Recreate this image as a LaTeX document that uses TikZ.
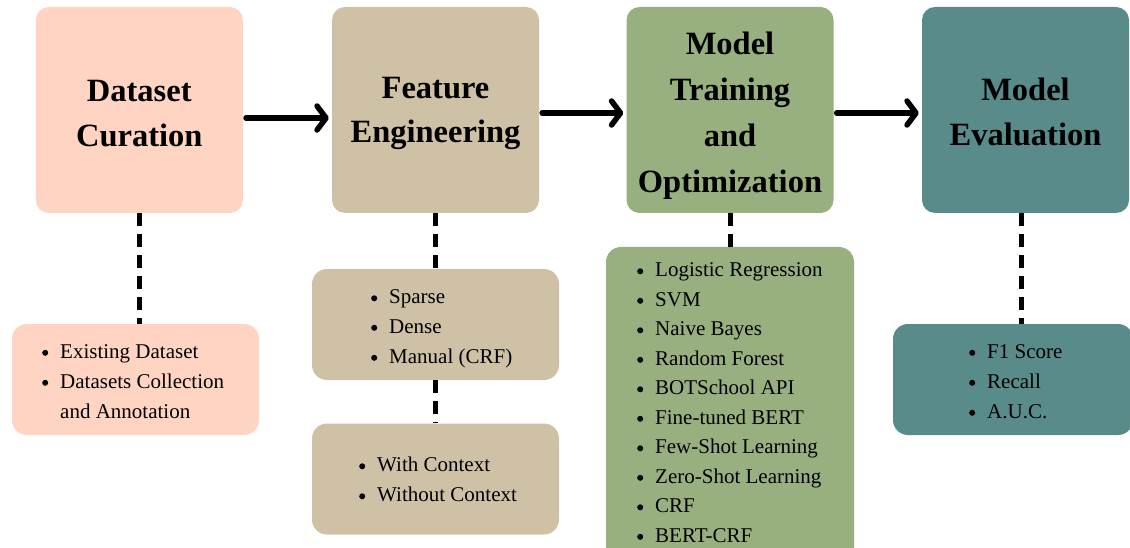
\documentclass[tikz,border=0pt]{standalone}
\usepackage{fontspec}
\setmainfont{Liberation Serif}
\usetikzlibrary{arrows.meta}
\definecolor{cpeach}{HTML}{FFD4C2}
\definecolor{ctan}{HTML}{CEC1A6}
\definecolor{cgreen}{HTML}{98AF80}
\definecolor{cteal}{HTML}{588B8A}
\tikzset{
  mainbox/.style={rounded corners=13pt, inner sep=0pt, minimum width=207pt, minimum height=206pt},
  subbox/.style={rounded corners=15pt, inner sep=0pt},
  ttl/.style={anchor=base, inner sep=0pt, font=\bfseries\fontsize{32.5}{40}\selectfont},
  itm/.style={anchor=west, inner sep=0pt, text height=14pt, text depth=4pt, font=\fontsize{21}{25}\selectfont},
  flow/.style={line width=5.5pt, line cap=round, -{Straight Barb[length=9pt,width=24pt,round]}},
  dashline/.style={line width=5pt, dash pattern=on 13pt off 8pt}
}
\newcommand{\bul}{\llap{\tikz[baseline=0pt]\fill (0pt,5.2pt) circle (3pt);\hspace{12pt}}}
\begin{document}
\begin{tikzpicture}[x=1pt,y=-1pt]
\useasboundingbox (0,0) rectangle (1130,548);
% main boxes
\node[mainbox, fill=cpeach] (b1) at (139.3,110) {};
\node[mainbox, fill=ctan] (b2) at (435.5,110) {};
\node[mainbox, fill=cgreen] (b3) at (730,110) {};
\node[mainbox, fill=cteal] (b4) at (1025.5,110) {};
% titles
\node[ttl] (t1a) at (139.3,101.5) {Dataset};
\node[ttl] (t1b) at (139.3,146.5) {Curation};
\node[ttl] (t2a) at (435.5,98.5) {Feature};
\node[ttl] (t2b) at (435.5,143) {Engineering};
\node[ttl] (t3a) at (730,55) {Model};
\node[ttl] (t3b) at (730,101) {Training};
\node[ttl] (t3c) at (730,147) {and};
\node[ttl] (t3d) at (730,193) {Optimization};
\node[ttl] (t4a) at (1025.5,100.5) {Model};
\node[ttl] (t4b) at (1025.5,146) {Evaluation};
% flow arrows
\coordinate (a1s) at (b1.east |- 0,118);
\coordinate (a1e) at (b2.west |- 0,118);
\draw[flow] ([xshift=3pt]a1s) -- ([xshift=-3pt]a1e);
\coordinate (a2s) at (b2.east |- 0,113);
\coordinate (a2e) at (b3.west |- 0,113);
\draw[flow] ([xshift=3pt]a2s) -- ([xshift=-3pt]a2e);
\coordinate (a3s) at (b3.east |- 0,113);
\coordinate (a3e) at (b4.west |- 0,113);
\draw[flow] ([xshift=3pt]a3s) -- ([xshift=-3pt]a3e);
% sub boxes
\node[subbox, fill=cpeach, minimum width=247pt, minimum height=111pt] (s1) at (135.5,379.5) {};
\node[subbox, fill=ctan, minimum width=247pt, minimum height=111pt] (s2a) at (435.5,324.5) {};
\node[subbox, fill=ctan, minimum width=247pt, minimum height=111pt] (s2b) at (435.5,479) {};
\node[subbox, fill=cgreen, minimum width=248pt, minimum height=320pt] (s3) at (730,407) {};
\node[subbox, fill=cteal, minimum width=240pt, minimum height=111pt] (s4) at (1013,379.5) {};
% dashed connectors
\draw[dashline] (b1.south) -- (b1.south |- s1.north);
\draw[dashline] (b2.south) -- (s2a.north);
\draw[dashline] (s2a.south) -- (s2b.north);
\draw[dashline] (b3.south) -- (s3.north);
\draw[dashline] (b4.south -| 1021,0) -- (1021,0 |- s4.north);
% lists
\node[itm] (l1a) at (60,353) {\bul Existing Dataset};
\node[itm] (l1b) at (60,383) {\bul Datasets Collection};
\node[itm] (l1c) at (60,413) {and Annotation};
\node[itm] (l2a) at (389,298.5) {\bul Sparse};
\node[itm] (l2b) at (389,328) {\bul Dense};
\node[itm] (l2c) at (389,358) {\bul Manual (CRF)};
\node[itm] (l2d) at (377,466.5) {\bul With Context};
\node[itm] (l2e) at (377,496.5) {\bul Without Context};
\foreach \t [count=\i] in {Logistic Regression, SVM, Naive Bayes, Random Forest, BOTSchool API, Fine-tuned BERT, Few-Shot Learning, Zero-Shot Learning, CRF, BERT-CRF}
  \node[itm] (l3-\i) at (655,{271.5+29.5*(\i-1)}) {\bul \t};
\node[itm] (l4a) at (987,353) {\bul F1 Score};
\node[itm] (l4b) at (987,383) {\bul Recall};
\node[itm] (l4c) at (987,413) {\bul A.U.C.};
\end{tikzpicture}
\end{document}
